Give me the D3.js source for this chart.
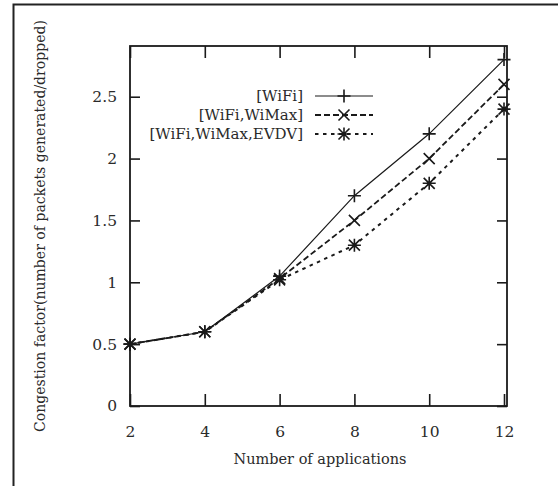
<!DOCTYPE html>
<html>
<head>
<meta charset="utf-8">
<script src="https://d3js.org/d3.v7.min.js"></script>
<style>
  * { margin: 0; padding: 0; }
  body { background: #fff; width: 558px; height: 486px; overflow: hidden; }
  svg text { font-family: "DejaVu Serif", "Liberation Serif", serif !important; }
</style>
</head>
<body>
<div id="chart"></div>
<script>
  // data
  const apps = [2, 4, 6, 8, 10, 12];
  const wifi = [0.5, 0.6, 1.05, 1.7, 2.2, 2.8];
  const wifiWimax = [0.5, 0.6, 1.03, 1.5, 2.0, 2.6];
  const wifiWimaxEvdv = [0.5, 0.6, 1.02, 1.3, 1.8, 2.4];
  const xTicks = [2, 4, 6, 8, 10, 12];
  const yTicks = [0, 0.5, 1, 1.5, 2, 2.5];
  const seriesNames = ["[WiFi]", "[WiFi,WiMax]", "[WiFi,WiMax,EVDV]"];

  const W = 558, H = 486;
  const m = { left: 130, right: 507, top: 46, bottom: 406 };
  const ink = "#1a1a1a", txt = "#2a2a2a";

  const svg = d3.select("#chart").append("svg")
    .attr("width", W).attr("height", H);

  // outer frame, only its left and top edges show
  svg.append("path")
    .attr("d", `M13.5,${H} L13.5,4.5 L${W},4.5`)
    .attr("fill", "none").attr("stroke", "#222").attr("stroke-width", 2);

  const x = d3.scaleLinear().domain([2, 12.08]).range([m.left, m.right]);
  const y = d3.scaleLinear().domain([0, 2.91]).range([m.bottom, m.top]);

  const tick = 12;
  svg.append("g").attr("transform", `translate(0,${m.bottom})`)
    .call(d3.axisBottom(x).tickValues(xTicks).tickSize(-tick).tickPadding(tick + 8).tickFormat(d3.format("d")));
  svg.append("g").attr("transform", `translate(0,${m.top})`)
    .call(d3.axisTop(x).tickValues(xTicks).tickSize(-tick).tickFormat(""));
  svg.append("g").attr("transform", `translate(${m.left},0)`)
    .call(d3.axisLeft(y).tickValues(yTicks).tickSize(-10).tickPadding(13).tickFormat(d3.format("")));
  svg.append("g").attr("transform", `translate(${m.right},0)`)
    .call(d3.axisRight(y).tickValues(yTicks).tickSize(-10).tickFormat(""));

  svg.selectAll(".domain").remove();
  svg.selectAll(".tick line").attr("stroke", ink).attr("stroke-width", 1.6);
  svg.selectAll(".tick text").attr("font-size", 15.5).attr("fill", txt);

  svg.append("rect")
    .attr("x", m.left).attr("y", m.top)
    .attr("width", m.right - m.left).attr("height", m.bottom - m.top)
    .attr("fill", "none").attr("stroke", ink).attr("stroke-width", 1.8);

  svg.append("text")
    .attr("x", 320).attr("y", 464)
    .attr("text-anchor", "middle").attr("font-size", 14.5).attr("fill", txt)
    .attr("textLength", 173).attr("lengthAdjust", "spacingAndGlyphs")
    .text("Number of applications");

  svg.append("text")
    .attr("transform", "translate(45,226) rotate(-90)")
    .attr("text-anchor", "middle").attr("font-size", 14.5).attr("fill", txt)
    .attr("textLength", 412).attr("lengthAdjust", "spacingAndGlyphs")
    .text("Congestion factor(number of packets generated/dropped)");

  const series = [
    { name: seriesNames[0], values: wifi, dash: null, width: 1.2, mark: "plus" },
    { name: seriesNames[1], values: wifiWimax, dash: "6,3", width: 1.8, mark: "cross" },
    { name: seriesNames[2], values: wifiWimaxEvdv, dash: "3.5,4.5", width: 2, mark: "star" }
  ];

  const line = d3.line().x(d => x(d[0])).y(d => y(d[1]));
  const s = 6.5, c = 5.5;
  function markPath(kind, px, py) {
    const plus = `M${px - s},${py}H${px + s}M${px},${py - s}V${py + s}`;
    const cross = `M${px - c},${py - c}L${px + c},${py + c}M${px - c},${py + c}L${px + c},${py - c}`;
    if (kind === "plus") return plus;
    if (kind === "cross") return cross;
    return plus + cross;
  }

  series.forEach(se => {
    const pts = apps.map((a, i) => [a, se.values[i]]);
    svg.append("path")
      .attr("d", line(pts))
      .attr("fill", "none").attr("stroke", ink)
      .attr("stroke-width", se.width)
      .attr("stroke-dasharray", se.dash);
    svg.append("path")
      .attr("d", pts.map(p => markPath(se.mark, x(p[0]), y(p[1]))).join(""))
      .attr("fill", "none").attr("stroke", ink).attr("stroke-width", 1.6);
  });

  // legend
  const legY = [96, 115, 134];
  series.forEach((se, i) => {
    svg.append("text")
      .attr("x", 303).attr("y", legY[i] + 5)
      .attr("text-anchor", "end").attr("font-size", 15).attr("fill", txt)
      .text(se.name);
    svg.append("line")
      .attr("x1", 315).attr("x2", 373).attr("y1", legY[i]).attr("y2", legY[i])
      .attr("stroke", ink).attr("stroke-width", se.width)
      .attr("stroke-dasharray", se.dash);
    svg.append("path")
      .attr("d", markPath(se.mark, 344, legY[i]))
      .attr("fill", "none").attr("stroke", ink).attr("stroke-width", 1.6);
  });
</script>
</body>
</html>
